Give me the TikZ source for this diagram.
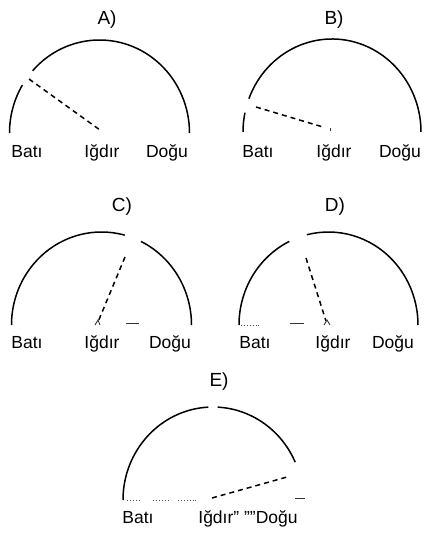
\documentclass[tikz,border=0pt]{standalone}
\usepackage{fontspec}
\setmainfont{Liberation Sans}
\usetikzlibrary{positioning}

\begin{document}
\begin{tikzpicture}[x=1pt,y=-1pt,
    lbl/.style={anchor=base,inner sep=0pt,font=\fontsize{17.5}{20}\selectfont},
    ttl/.style={anchor=base,inner sep=0pt,font=\fontsize{19}{22}\selectfont},
    rim/.style={line width=1.5pt},
    ray/.style={line width=1.5pt,dash pattern=on 5pt off 4pt},
    mark line/.style={line width=0.9pt,black!80},
    dots line/.style={line width=0.9pt,dotted,black!70}]
  \useasboundingbox (0,0) rectangle (427,533);

  \coordinate (cA) at (99.5,133);
  \coordinate (cB) at (332,132);
  \coordinate (cC) at (101.5,325);
  \coordinate (cD) at (328.5,325);
  \coordinate (cE) at (213,500);

  \node (ttlA) [ttl] at (107,24) {A)};
  \node (batiA)  [lbl] at (27,157)  {Batı};
  \node (igdirA) [lbl] at (102,157) {Iğdır};
  \node (doguA)  [lbl] at (167,157) {Doğu};
  \draw[rim] (cA) ++(-180:90 and 93) arc[start angle=-180,end angle=-149,x radius=90,y radius=93];
  \draw[rim] (cA) ++(-138:90 and 93) arc[start angle=-138,end angle=0,x radius=90,y radius=93];
  \coordinate (sunA) at (29,79);
  \coordinate (obsA) at (100,130);
  \draw[ray] (sunA) -- (obsA);

  \node (ttlB) [ttl] at (334,24) {B)};
  \node (batiB)  [lbl] at (258,157) {Batı};
  \node (igdirB) [lbl] at (334,157) {Iğdır};
  \node (doguB)  [lbl] at (400,157) {Doğu};
  \draw[rim] (cB) ++(-180:89 and 93) arc[start angle=-180,end angle=-168,x radius=89,y radius=93];
  \draw[rim] (cB) ++(-159:89 and 93) arc[start angle=-159,end angle=0,x radius=89,y radius=93];
  \coordinate (sunB) at (256,107);
  \coordinate (obsB) at (323,127);
  \draw[ray] (sunB) -- (obsB);
  \draw[mark line] (330.5,128) -- (330.5,131);

  \node (ttlC) [ttl] at (122,211) {C)};
  \node (batiC)  [lbl] at (27,348)  {Batı};
  \node (igdirC) [lbl] at (102,348) {Iğdır};
  \node (doguC)  [lbl] at (170,348) {Doğu};
  \draw[rim] (cC) ++(-180:90 and 93) arc[start angle=-180,end angle=-75,x radius=90,y radius=93];
  \draw[rim] (cC) ++(-64:90 and 93) arc[start angle=-64,end angle=0,x radius=90,y radius=93];
  \coordinate (sunC) at (125,257);
  \coordinate (obsC) at (98,322);
  \draw[ray] (sunC) -- (obsC);
  \draw[mark line] (95,325) -- (98,320) -- (100,325);
  \draw[mark line] (126,323) -- (139,323);

  \node (ttlD) [ttl] at (335,211) {D)};
  \node (batiD)  [lbl] at (255,348) {Batı};
  \node (igdirD) [lbl] at (333,348) {Iğdır};
  \node (doguD)  [lbl] at (393,348) {Doğu};
  \draw[rim] (cD) ++(-180:89.5 and 93) arc[start angle=-180,end angle=-116,x radius=89.5,y radius=93];
  \draw[rim] (cD) ++(-104:89.5 and 93) arc[start angle=-104,end angle=0,x radius=89.5,y radius=93];
  \coordinate (sunD) at (306,258);
  \coordinate (obsD) at (326,321);
  \draw[ray] (sunD) -- (obsD);
  \draw[mark line] (324,325) -- (327,320) -- (330,325);
  \draw[mark line] (290,323) -- (304,323);
  \draw[dots line] (241,325) -- (261,325);

  \node (ttlE) [ttl] at (219,386) {E)};
  \node (batiE)  [lbl] at (138,523) {Batı};
  \node (igdirE) [lbl] at (248,523) {Iğdır" ""Doğu};
  \draw[rim] (cE) ++(-180:90 and 93) arc[start angle=-180,end angle=-93,x radius=90,y radius=93];
  \draw[rim] (cE) ++(-87:90 and 93) arc[start angle=-87,end angle=-24,x radius=90,y radius=93];
  \coordinate (sunE) at (287,477);
  \coordinate (obsE) at (212,498);
  \draw[ray] (obsE) -- (sunE);
  \draw[dots line] (127,500) -- (140,500);
  \draw[dots line] (153,500) -- (168,500);
  \draw[dots line] (178,500) -- (197,500);
  \draw[mark line] (295,498) -- (305,498);
\end{tikzpicture}
\end{document}
